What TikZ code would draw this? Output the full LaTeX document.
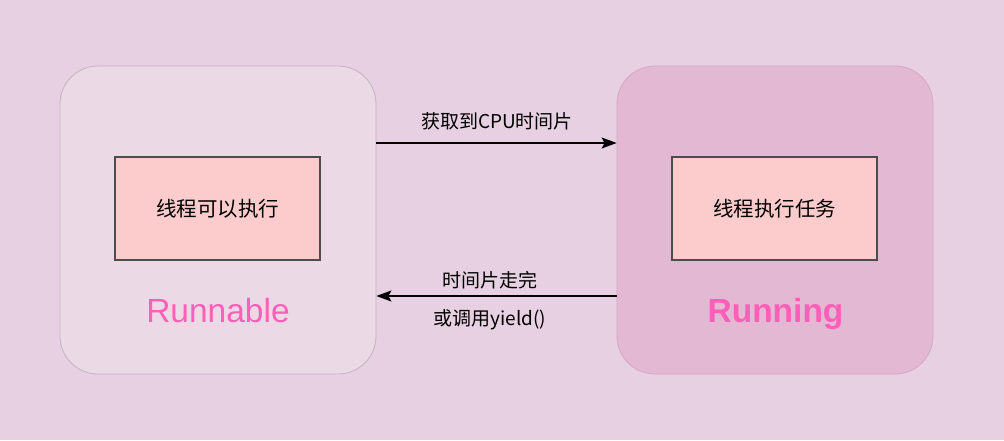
\documentclass[tikz,border=0pt]{standalone}
\usepackage{fontspec}
\setmainfont{Liberation Sans}
\newfontfamily\cjk{Noto Sans CJK SC}
\usepackage{xcolor}
\usepackage{tikz}
\usetikzlibrary{arrows.meta,positioning}

\definecolor{bgpink}{HTML}{E6D0E1}
\definecolor{readyfill}{HTML}{EBD9E5}
\definecolor{readyline}{HTML}{C4B4BE}
\definecolor{runfill}{HTML}{E3B8D2}
\definecolor{runline}{HTML}{DAA6C6}
\definecolor{taskfill}{HTML}{FCCBCB}
\definecolor{statepink}{HTML}{FF5FB8}

\begin{document}
\begin{tikzpicture}[x=1pt,y=-1pt,
    state/.style={rounded corners=38pt, minimum width=316pt, minimum height=308pt, line width=0.8pt},
    task/.style={draw=black!70, fill=taskfill, line width=1.3pt, minimum width=205pt, minimum height=103pt,
        font=\cjk\fontsize{20.5}{24}\selectfont},
    statename/.style={text=statepink, anchor=base, font=\fontsize{33.5}{38}\selectfont},
    edgelabel/.style={font=\cjk\fontsize{19}{23}\selectfont},
    trans/.style={-{Stealth[length=15pt,width=11pt,inset=3pt]}, line width=1.4pt}]
    \fill[bgpink] (0,0) rectangle (1004,440);
    \useasboundingbox (0,0) rectangle (1004,440);
    % the two states
    \node[state, draw=readyline, fill=readyfill] (runnable) at (218,220) {};
    \node[state, draw=runline, fill=runfill] (running) at (775,220) {};
    \node[task] (canrun) at (217.5,208.5) {线程可以执行};
    \node[task] (dotask) at (774.5,208.5) {线程执行任务};
    \node[statename] (runnablename) at (218,322) {Runnable};
    \node[statename, font=\bfseries\fontsize{33.5}{38}\selectfont] (runningname) at (775.5,322) {Running};
    % transitions
    \draw[trans] ([yshift=77pt]runnable.east) -- ([yshift=77pt]running.west);
    \draw[trans] ([yshift=-76pt]running.west) -- ([yshift=-76pt]runnable.east);
    \node[edgelabel] (getcpu) at (497,121) {获取到CPU时间片};
    \node[edgelabel] (timeup) at (490,280) {时间片走完};
    \node[edgelabel] (yield) at (490,320) {或调用yield()};
\end{tikzpicture}
\end{document}
